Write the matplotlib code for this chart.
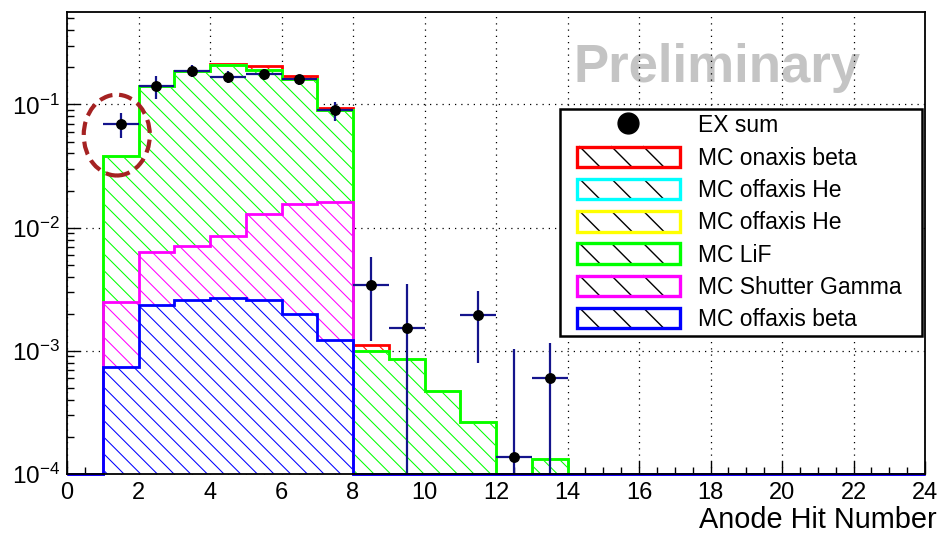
import numpy as np
import matplotlib
matplotlib.use("Agg")
import matplotlib.pyplot as plt
from matplotlib.ticker import MultipleLocator, LogLocator, NullFormatter
from matplotlib.patches import Rectangle, Ellipse, Patch
from matplotlib.lines import Line2D
from matplotlib.legend_handler import HandlerBase

plt.rcParams['font.family'] = ['Liberation Sans', 'DejaVu Sans']
plt.rcParams['mathtext.fontset'] = 'custom'
plt.rcParams['mathtext.rm'] = 'Liberation Sans'
plt.rcParams['mathtext.it'] = 'Liberation Sans:italic'
plt.rcParams['mathtext.bf'] = 'Liberation Sans:bold'
plt.rcParams['hatch.linewidth'] = 0.75

# ---------------- data ----------------
bin_edges = np.arange(0, 25)          # 24 bins of width 1

# per-component contributions (stacked bottom -> top)
mc_offaxis_beta = [0, 7.35e-4, 2.34e-3, 2.57e-3, 2.67e-3, 2.58e-3, 2.0e-3, 1.22e-3] + [0] * 16
mc_shutter_gamma = [0, 1.77e-3, 4.0e-3, 4.56e-3, 5.93e-3, 1.03e-2, 1.35e-2, 1.48e-2] + [0] * 16
mc_lif = [0, 3.56e-2, 0.1347, 0.1789, 0.2004, 0.1771, 0.1445, 0.0735,
          1.0e-3, 8.6e-4, 4.75e-4, 2.64e-4, 0, 1.32e-4] + [0] * 10
mc_offaxis_he_y = [0] * 24
mc_offaxis_he_c = [0] * 24
mc_onaxis_beta = [0, 0, 0, 0, 0.005, 0.017, 0.010, 0.004, 1.1e-4] + [0] * 15

stack_labels = ["MC offaxis beta", "MC Shutter Gamma", "MC LiF",
                "MC offaxis He", "MC offaxis He", "MC onaxis beta"]
stack_colors = ["#0000ff", "#ff00ff", "#00ff00", "#ffff00", "#00ffff", "#ff0000"]

ex_x = [1.5, 2.5, 3.5, 4.5, 5.5, 6.5, 7.5, 8.5, 9.5, 11.5, 12.5, 13.5]
ex_y = [6.93e-2, 0.141, 0.188, 0.168, 0.177, 0.160, 0.090,
        3.42e-3, 1.52e-3, 1.95e-3, 1.37e-4, 6.05e-4]
ex_err_up = [1.54e-2, 0.029, 0.021, 0.020, 0.016, 0.015, 0.015,
             2.35e-3, 1.97e-3, 1.12e-3, 8.9e-4, 5.45e-4]
ex_err_lo = [1.62e-2, 0.031, 0.022, 0.018, 0.019, 0.017, 0.016,
             2.21e-3, 1.52e-3, 1.15e-3, 1.37e-4, 6.05e-4]

ymin, ymax = 1e-4, 0.56
hatch = '\\\\'

# ---------------- figure ----------------
fig = plt.figure(figsize=(9.43, 5.35), dpi=100)
ax = fig.add_axes([67 / 943, (535 - 474) / 535, (925 - 67) / 943, (474 - 12.3) / 535])
ax.set_yscale('log')
ax.set_xlim(0, 24)
ax.set_ylim(ymin, ymax)

components = [mc_offaxis_beta, mc_shutter_gamma, mc_lif,
              mc_offaxis_he_y, mc_offaxis_he_c, mc_onaxis_beta]
cum = np.cumsum(np.array(components, dtype=float), axis=0)

# draw from top of stack down, like THStack
for i in reversed(range(len(components))):
    vals = cum[i]
    col = stack_colors[i]
    ax.stairs(np.maximum(vals, 1e-7), bin_edges, baseline=1e-7, fill=True,
              facecolor='white', edgecolor=col, hatch=hatch, linewidth=0,
              zorder=2)
    ax.stairs(np.maximum(vals, ymin), bin_edges, baseline=None, fill=False,
              color=col, linewidth=2.0, zorder=2.1, clip_on=False)

# data points
ex_y_a = np.array(ex_y)
lo = ex_y_a - np.maximum(ex_y_a - np.array(ex_err_lo), 1e-7)
ax.errorbar(ex_x, ex_y, xerr=0.5, yerr=[lo, ex_err_up], fmt='o',
            color='black', markersize=6.8, ecolor='#14148c', elinewidth=1.6,
            capsize=0, zorder=5)

# grid
ax.set_axisbelow(True)
ax.grid(True, which='major', linestyle=(0, (1, 4)), color='black', linewidth=0.9)

# ticks
ax.xaxis.set_major_locator(MultipleLocator(2))
ax.xaxis.set_minor_locator(MultipleLocator(0.5))
ax.yaxis.set_major_locator(LogLocator(base=10, numticks=10))
ax.yaxis.set_minor_locator(LogLocator(base=10, subs=np.arange(2, 10), numticks=20))
ax.yaxis.set_minor_formatter(NullFormatter())
ax.tick_params(which='major', direction='in', length=9.5, width=1.0,
               top=False, right=False, labelsize=17, pad=6)
ax.tick_params(which='minor', direction='in', length=5, width=1.0,
               top=False, right=False)
ax.tick_params(axis='y', pad=5, labelsize=17.5)
for s in ax.spines.values():
    s.set_linewidth(1.3)
    s.set_zorder(6)

ax.set_xlabel("Anode Hit Number", fontsize=20.8, ha='right')
ax.xaxis.set_label_coords(1.014, -0.07)

# Preliminary watermark
ax.text(0.7576, 0.8497, "Preliminary", transform=ax.transAxes, fontsize=38,
        fontweight='bold', color='#c4c4c4', ha='center', va='baseline', zorder=0)

# dashed ellipse highlight
ell = Ellipse((0.058, 0.734), 0.077, 0.175, transform=ax.transAxes, fill=False,
              edgecolor='#a52222', linewidth=3.0, linestyle=(0, (3.2, 1.6)),
              zorder=7, clip_on=False)
ax.add_patch(ell)

# legend
class HatchBoxHandler(HandlerBase):
    def create_artists(self, legend, orig_handle, xdescent, ydescent,
                       width, height, fontsize, trans):
        x0 = -xdescent + 0.091 * width
        w = 0.814 * width
        y0 = -ydescent
        h = height
        arts = []
        bg = Rectangle((x0, y0), w, h, facecolor='white', edgecolor='none',
                       transform=trans)
        arts.append(bg)
        for f in (0.03, 0.34, 0.65):
            xs = x0 + f * w
            ln = Line2D([xs, xs + h], [y0 + h, y0], color='black', lw=1.0,
                        transform=trans)
            arts.append(ln)
        edge = Rectangle((x0, y0), w, h, facecolor='none',
                         edgecolor=orig_handle.get_edgecolor(), lw=2.4,
                         transform=trans)
        arts.append(edge)
        return arts

handles = [Line2D([], [], marker='o', color='black', linestyle='none', markersize=15)]
labels = ["EX sum"]
for i in reversed(range(len(components))):
    handles.append(Patch(facecolor='white', edgecolor=stack_colors[i]))
    labels.append(stack_labels[i])

hmap = {h: HatchBoxHandler() for h in handles[1:]}
leg_top = (474 - 109.3) / 461.7
leg = ax.legend(handles, labels, loc='upper left',
                bbox_to_anchor=((560 - 67) / 858, leg_top,
                                (921.7 - 560) / 858, 0.0),
                mode='expand', borderaxespad=0, fontsize=16.5,
                handlelength=5.52, handleheight=1.0, handletextpad=0.3,
                labelspacing=0.4, borderpad=0.22, fancybox=False,
                framealpha=1, edgecolor='black', handler_map=hmap)
leg.get_frame().set_linewidth(1.8)
leg.set_zorder(8)

fig.savefig("out.png", dpi=100)
